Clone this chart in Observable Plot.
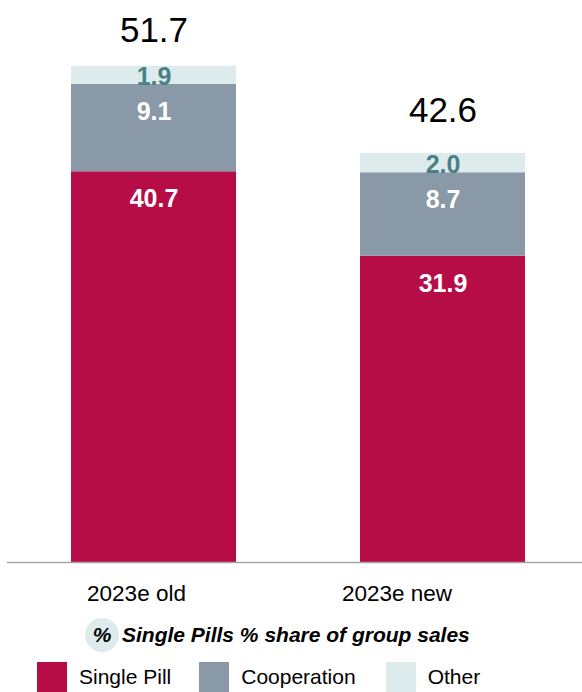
<!DOCTYPE html>
<html>
<head>
<meta charset="utf-8">
<script src="https://cdn.jsdelivr.net/npm/d3@7"></script>
<script src="https://cdn.jsdelivr.net/npm/@observablehq/plot@0.6"></script>
<style>
  html, body { margin: 0; padding: 0; background: #fff; }
  body { width: 582px; height: 692px; overflow: hidden; font-family: "Liberation Sans", Arial, sans-serif; }
  #chart svg { display: block; }
  .title { display: flex; align-items: center; height: 34px; margin-top: 8px; margin-left: 85px; }
  .title .pct { width: 34px; height: 34px; border-radius: 50%; background: #DDEBEC; display: flex; align-items: center; justify-content: center; font-weight: bold; font-style: italic; font-size: 21px; color: #000; }
  .title .txt { margin-left: 3px; font-weight: bold; font-style: italic; font-size: 21px; color: #000; }
  .legend { display: flex; align-items: center; margin-top: 10px; margin-left: 37px; font-size: 21px; color: #000; }
  .legend .sw { width: 30px; height: 30px; flex: none; }
  .legend .lab { margin-left: 12px; }
</style>
</head>
<body>
<div id="chart"></div>
<div class="title"><div class="pct">%</div><div class="txt">Single Pills % share of group sales</div></div>
<div class="legend" id="legend"></div>
<script>
const categories = ["2023e old", "2023e new"];
const segments = ["Single Pill", "Cooperation", "Other"];
const singlePill = [40.7, 31.9];
const cooperation = [9.1, 8.7];
const other = [1.9, 2.0];
const totals = [51.7, 42.6];
const colors = ["#B70D46", "#8A99A7", "#DDEBEC"];

const series = [singlePill, cooperation, other];
const data = categories.flatMap((c, i) =>
  segments.map((s, j) => ({cat: c, seg: s, value: series[j][i]}))
);
const totalData = categories.map((c, i) => ({cat: c, total: totals[i]}));

const font = "Liberation Sans, Arial, sans-serif";

const chart = Plot.plot({
  width: 582,
  height: 610,
  marginTop: 10,
  marginBottom: 48,
  marginLeft: 7,
  marginRight: 0,
  style: {fontFamily: font, background: "white"},
  x: {domain: categories, paddingInner: 0.43, paddingOuter: 0.209, align: 0.527, axis: null},
  y: {domain: [0, 57.5], axis: null},
  color: {domain: segments, range: colors},
  marks: [
    Plot.barY(data, {x: "cat", y: "value", fill: "seg", z: "seg"}),
    Plot.text(data, Plot.stackY2({
      x: "cat", y: "value", z: "seg",
      text: d => d.seg !== "Other" ? d.value.toFixed(1) : null,
      dy: 27.5, fill: "white", fontWeight: "bold", fontSize: 25
    })),
    Plot.text(data, Plot.stackY({
      x: "cat", y: "value", z: "seg",
      text: d => d.seg === "Other" ? d.value.toFixed(1) : null,
      dy: 2, fill: "#4B8087", fontWeight: "bold", fontSize: 25
    })),
    Plot.text([totalData[0]], {x: "cat", y: "total", text: d => d.total.toFixed(1), dy: -35, fontSize: 35, fill: "black"}),
    Plot.text([totalData[1]], {x: "cat", y: "total", text: d => d.total.toFixed(1), dy: -43, fontSize: 35, fill: "black"}),
    Plot.ruleY([0], {stroke: "#a6a6a6", strokeWidth: 1.5}),
    Plot.text([categories[0]], {x: d => d, y: () => 0, text: d => d, dy: 31, dx: -17.5, fontSize: 22.5, fill: "black"}),
    Plot.text([categories[1]], {x: d => d, y: () => 0, text: d => d, dy: 31, dx: -46, fontSize: 22.5, fill: "black"})
  ]
});
document.getElementById("chart").appendChild(chart);

const legend = document.getElementById("legend");
const gaps = [0, 28, 30];
segments.forEach((s, i) => {
  const sw = document.createElement("div");
  sw.className = "sw";
  sw.style.background = colors[i];
  sw.style.marginLeft = gaps[i] + "px";
  const lab = document.createElement("div");
  lab.className = "lab";
  lab.textContent = s;
  legend.appendChild(sw);
  legend.appendChild(lab);
});
</script>
</body>
</html>
